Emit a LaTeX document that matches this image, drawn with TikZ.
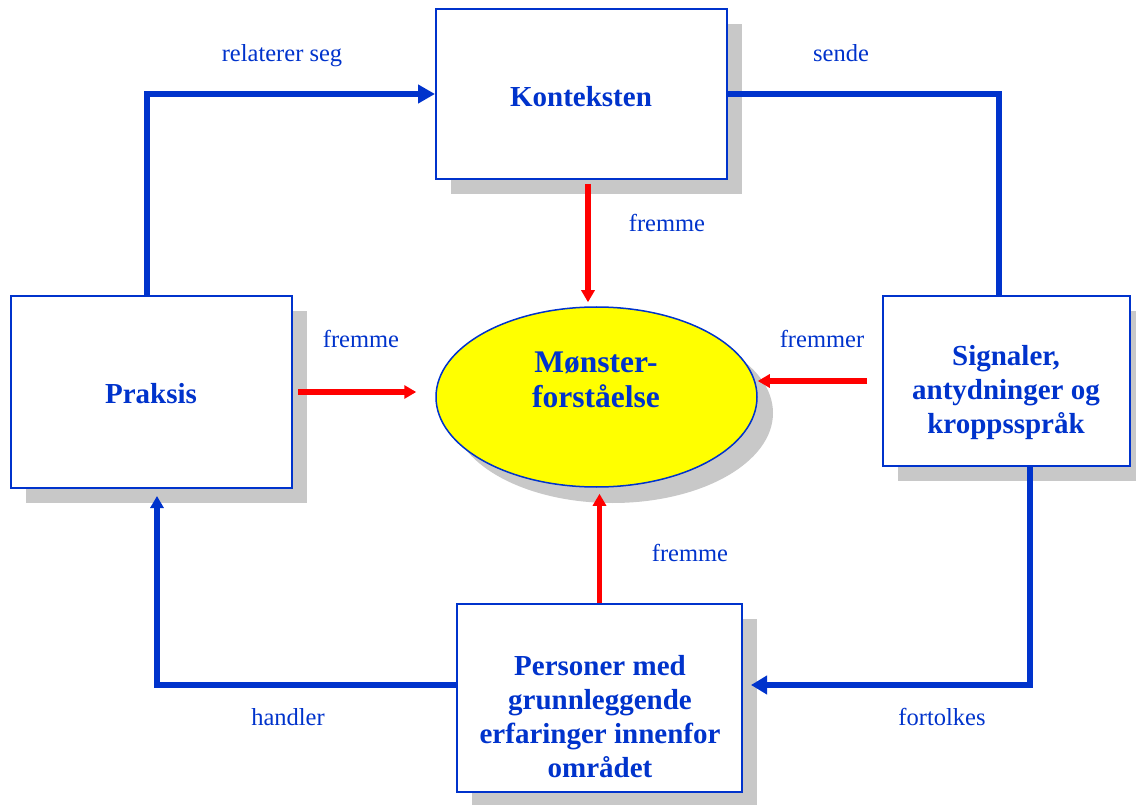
\documentclass[tikz,border=0pt]{standalone}
\usepackage{fontspec}
\setmainfont{Liberation Serif}
\usetikzlibrary{arrows.meta,shadows,shapes.geometric}
\definecolor{dblue}{RGB}{0,51,204}
\definecolor{shadowgray}{RGB}{200,200,200}
\definecolor{pureyellow}{RGB}{255,255,0}
\definecolor{purered}{RGB}{255,0,0}
\begin{document}
\begin{tikzpicture}[x=1pt,y=-1pt,
  box/.style={draw=dblue, line width=2pt, fill=white, inner sep=0pt,
    drop shadow={shadow xshift=15pt, shadow yshift=-15pt, fill=shadowgray, opacity=1}},
  oval/.style={ellipse, draw=dblue, line width=1.5pt, fill=pureyellow, inner sep=0pt,
    minimum width=321pt, minimum height=180pt,
    drop shadow={shadow xshift=16pt, shadow yshift=-16pt, fill=shadowgray, opacity=1}},
  bt/.style={text=dblue, font=\fontsize{29}{34}\selectfont\bfseries, inner sep=0pt, align=center},
  lt/.style={text=dblue, font=\fontsize{24.5}{28}\selectfont, inner sep=0pt},
  bluecon/.style={draw=dblue, line width=5.5pt},
  redcon/.style={draw=purered, line width=5.5pt, -{Triangle[length=12pt,width=13pt]}}
]
\useasboundingbox (0,0) rectangle (1136,805);
\fill[white] (0,0) rectangle (1136,805);

% boxes
\node[box, minimum width=291pt, minimum height=170pt] (kont) at (581.5,94) {};
\node[box, minimum width=281pt, minimum height=192pt] (prak) at (151.5,392) {};
\node[box, minimum width=247pt, minimum height=170pt] (sig) at (1006.5,381) {};
\node[box, minimum width=285pt, minimum height=188pt] (pers) at (599.5,698) {};
\node[oval] (mon) at (596.5,397) {};

% box texts (base = baseline of last line)
\node[bt, anchor=base] (tkont) at (581,107) {Konteksten};
\node[bt, anchor=base] (tprak) at (151,403) {Praksis};
\node[bt, anchor=base, font=\fontsize{31.5}{35}\selectfont\bfseries] (tmon) at (596,407) {Mønster-\\forståelse};
\node[bt, anchor=base] (tsig) at (1006,433) {Signaler,\\antydninger og\\kroppsspråk};
\node[bt, anchor=base] (tpers) at (600,777) {Personer med\\grunnleggende\\erfaringer innenfor\\området};

% blue cycle
\draw[bluecon, -{Triangle[length=17pt,width=18pt]}] ([xshift=-4.5pt]prak.north) |- (kont.west);
\draw[bluecon] (kont.east) -| ([xshift=-7.5pt]sig.north);
\draw[bluecon, -{Triangle[length=16pt,width=18pt]}, shorten >=8pt] ([xshift=23.5pt]sig.south) |- ([yshift=13pt]pers.east);
\draw[bluecon, -{Triangle[length=12pt,width=13pt]}, shorten >=7pt] ([yshift=13pt]pers.west) -| ([xshift=5.5pt]prak.south);

% red arrows
\draw[redcon, shorten <=4pt, shorten >=4pt] ([xshift=6.5pt]kont.south) -- ([xshift=-8.5pt]mon.north);
\draw[redcon, shorten <=5pt, shorten >=19pt] (prak.east) -- (prak.east -| mon.west);
\draw[redcon, shorten <=15pt] (sig.west) -- (sig.west -| mon.east);
\draw[redcon, shorten >=6pt] (pers.north) -- (pers.north |- mon.south);

% labels
\node[lt, anchor=base] (lrel) at (282,62) {relaterer seg};
\node[lt, anchor=base] (lsend) at (841,62) {sende};
\node[lt, anchor=base] (lf1) at (667,232) {fremme};
\node[lt, anchor=base] (lf2) at (361,347) {fremme};
\node[lt, anchor=base] (lf3) at (822,347) {fremmer};
\node[lt, anchor=base] (lf4) at (690,561) {fremme};
\node[lt, anchor=base] (lhand) at (288,725) {handler};
\node[lt, anchor=base] (lfort) at (942,725) {fortolkes};
\end{tikzpicture}
\end{document}
